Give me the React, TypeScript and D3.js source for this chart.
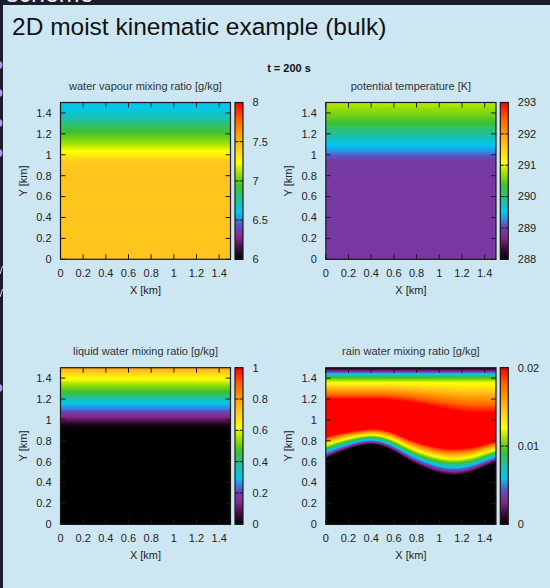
import React, { useMemo } from "react";
import * as d3 from "d3";

// vertical levels (km) for the horizontally uniform fields
const heightLevels = [0, 0.9, 0.95, 1.0, 1.05, 1.1, 1.15, 1.2, 1.25, 1.3, 1.35, 1.4, 1.45, 1.5];
const vapourProfile = [7.45, 7.45, 7.42, 7.3, 7.22, 7.12, 7.04, 6.97, 6.9, 6.82, 6.74, 6.67, 6.62, 6.58];
const thetaProfile = [288.88, 288.88, 288.92, 289.15, 289.35, 289.5, 289.7, 289.9, 290.1, 290.3, 290.45, 290.6, 290.72, 290.85];
const liquidProfile = [0, 0, 0.02, 0.1, 0.16, 0.24, 0.29, 0.36, 0.44, 0.5, 0.56, 0.63, 0.7, 0.78];

// rain water: lower edge of the rain shaft, depth of the edge, and top of the red core
const rainX = [0, 0.1, 0.2, 0.3, 0.4, 0.5, 0.6, 0.7, 0.8, 0.9, 1.0, 1.1, 1.2, 1.3, 1.4, 1.5];
const rainBase = [0.63, 0.68, 0.72, 0.755, 0.77, 0.75, 0.7, 0.63, 0.57, 0.52, 0.485, 0.465, 0.47, 0.5, 0.55, 0.59];
const rainDepth = [0.21, 0.19, 0.17, 0.15, 0.15, 0.16, 0.18, 0.2, 0.22, 0.24, 0.25, 0.26, 0.26, 0.24, 0.22, 0.21];
const rainRedTop = [1.2, 1.2, 1.2, 1.2, 1.2, 1.2, 1.19, 1.18, 1.16, 1.14, 1.12, 1.1, 1.08, 1.07, 1.07, 1.07];
const rainTopLevels = [1.366, 1.414, 1.445, 1.48, 1.5];
const rainTopValues = [0.012, 0.009, 0.006, 0.002, 0.0005];

const axisTicks = [0, 0.2, 0.4, 0.6, 0.8, 1, 1.2, 1.4];
const vapourTicks = [6, 6.5, 7, 7.5, 8];
const thetaTicks = [288, 289, 290, 291, 292, 293];
const liquidTicks = [0, 0.2, 0.4, 0.6, 0.8, 1];
const rainTicks = [0, 0.01, 0.02];

const paletteStops = [0, 0.07, 0.15, 0.22, 0.25, 0.3, 0.38, 0.47, 0.55, 0.62, 0.72, 0.8, 0.9, 1];
const paletteColors = ["#000000", "#3a0c3c", "#8a2a90", "#5a50c0", "#3a80e0", "#00c8f0", "#20c0a0", "#40c030", "#a0e000", "#ffff00", "#ffc820", "#ffa000", "#ff6000", "#ff0000"];

const palette = d3.scaleLinear<string>().domain(paletteStops).range(paletteColors).interpolate(d3.interpolateRgb).clamp(true);

const font = "Liberation Sans, Arial, sans-serif";
const fmt = (v: number) => String(+v.toFixed(3));

const profileField = (values: number[]) => {
  const s = d3.scaleLinear().domain(heightLevels).range(values).clamp(true);
  return (_x: number, y: number) => s(y);
};

// smooth along x with a B-spline through the column values
const xFrac = d3.scaleLinear().domain([0, 1.5]).range([0, 1]).clamp(true);
const baseAt = d3.interpolateBasis(rainBase);
const depthAt = d3.interpolateBasis(rainDepth);
const redTopAt = d3.interpolateBasis(rainRedTop);

const rainField = (x: number, y: number) => {
  const f = xFrac(x);
  const lower = d3.scaleLinear().domain([baseAt(f), baseAt(f) + depthAt(f)]).range([0, 0.02]).clamp(true)(y);
  const upper = d3.scaleLinear().domain([redTopAt(f), ...rainTopLevels]).range([0.02, ...rainTopValues]).clamp(true)(y);
  return Math.min(lower, upper);
};

const panels = [
  { title: "water vapour mixing ratio [g/kg]", x0: 60.5, x1: 230.5, y0: 102.5, y1: 259.3, cb: 235, domain: [6, 8], ticks: vapourTicks, field: profileField(vapourProfile), uniform: true },
  { title: "potential temperature [K]", x0: 325.8, x1: 496, y0: 102.5, y1: 259.3, cb: 500.3, domain: [288, 293], ticks: thetaTicks, field: profileField(thetaProfile), uniform: true },
  { title: "liquid water mixing ratio [g/kg]", x0: 60.5, x1: 230.5, y0: 367.7, y1: 524.3, cb: 235, domain: [0, 1], ticks: liquidTicks, field: profileField(liquidProfile), uniform: true },
  { title: "rain water mixing ratio [g/kg]", x0: 325.8, x1: 496, y0: 367.7, y1: 524.3, cb: 500.3, domain: [0, 0.02], ticks: rainTicks, field: rainField, uniform: false },
];

const Panel = ({ p }: { p: any }) => {
  const xScale = d3.scaleLinear().domain([0, 1.5]).range([p.x0, p.x1]);
  const yScale = d3.scaleLinear().domain([0, 1.5]).range([p.y1, p.y0]);
  const norm = d3.scaleLinear().domain(p.domain).range([0, 1]);
  const cbScale = d3.scaleLinear().domain(p.domain).range([p.y1, p.y0]);
  const cbW = 8;

  const cells = useMemo(() => {
    const out: any[] = [];
    const step = p.uniform ? 1 : 2;
    for (let py = p.y0; py < p.y1; py += 1) {
      const y = yScale.invert(py + 0.5);
      if (p.uniform) {
        out.push(<rect key={py} x={p.x0} y={py} width={p.x1 - p.x0} height={1.2} fill={palette(norm(p.field(0, y)))} />);
      } else {
        for (let px = p.x0; px < p.x1; px += step) {
          const x = xScale.invert(px + step / 2);
          out.push(<rect key={px + "_" + py} x={px} y={py} width={Math.min(step + 0.3, p.x1 - px)} height={1.2} fill={palette(norm(p.field(x, y)))} />);
        }
      }
    }
    return out;
  }, []);

  const cbRows = useMemo(() => {
    const out: any[] = [];
    for (let py = p.y0; py < p.y1; py += 1) {
      const v = cbScale.invert(py + 0.5);
      out.push(<rect key={py} x={p.cb} y={py} width={cbW} height={1.2} fill={palette(norm(v))} />);
    }
    return out;
  }, []);

  const ink = "#1a1a1a";
  return (
    <g fontFamily={font}>
      <text x={(p.x0 + p.x1) / 2} y={p.y0 - 12.5} textAnchor="middle" fontSize={11} fill="#333">{p.title}</text>
      <g shapeRendering="crispEdges">{cells}</g>
      {axisTicks.map((t) => (
        <g key={"x" + t} stroke={ink} strokeWidth={1}>
          <line x1={xScale(t)} x2={xScale(t)} y1={p.y0} y2={p.y0 + 5} />
          <line x1={xScale(t)} x2={xScale(t)} y1={p.y1} y2={p.y1 - 5} />
          <line x1={p.x0} x2={p.x0 + 5} y1={yScale(t)} y2={yScale(t)} />
          <line x1={p.x1} x2={p.x1 - 5} y1={yScale(t)} y2={yScale(t)} />
        </g>
      ))}
      <rect x={p.x0} y={p.y0} width={p.x1 - p.x0} height={p.y1 - p.y0} fill="none" stroke={ink} strokeWidth={1.2} />
      {axisTicks.map((t) => (
        <g key={"l" + t} fontSize={11} fill="#222">
          <text x={xScale(t)} y={p.y1 + 17.5} textAnchor="middle">{fmt(t)}</text>
          <text x={p.x0 - 9} y={yScale(t)} dy="0.35em" textAnchor="end">{fmt(t)}</text>
        </g>
      ))}
      <text x={(p.x0 + p.x1) / 2} y={p.y1 + 34.5} textAnchor="middle" fontSize={11} fill="#222">X [km]</text>
      <text transform={`translate(${p.x0 - 37.5},${(p.y0 + p.y1) / 2}) rotate(-90)`} textAnchor="middle" dy="0.35em" fontSize={11} fill="#222">Y [km]</text>
      <g shapeRendering="crispEdges">{cbRows}</g>
      {p.ticks.map((t: number) => (
        <g key={"c" + t}>
          <line x1={p.cb} x2={p.cb + 3.5} y1={cbScale(t)} y2={cbScale(t)} stroke={ink} />
          <line x1={p.cb + cbW} x2={p.cb + cbW - 3.5} y1={cbScale(t)} y2={cbScale(t)} stroke={ink} />
          <text x={p.cb + cbW + 9.5} y={cbScale(t)} dy="0.35em" fontSize={11} fill="#222">{fmt(t)}</text>
        </g>
      ))}
      <rect x={p.cb} y={p.y0} width={cbW} height={p.y1 - p.y0} fill="none" stroke={ink} strokeWidth={1.2} />
    </g>
  );
};

const bulletsY = [65, 93, 123, 153, 388];

const App = () => {
  return (
    <svg width={550} height={588} style={{ position: "absolute", left: 0, top: 0, display: "block" }}>
      <rect x={0} y={0} width={550} height={588} fill="#1b1b29" />
      {/* previous slide line peeking out at the top, cut off like in the screenshot */}
      <text x={6} y={2} fontFamily={font} fontSize={25} fill="#e8e8e8">scheme</text>
      {bulletsY.map((y) => (
        <circle key={y} cx={-1.5} cy={y} r={4} fill="#a49cf0" />
      ))}
      <line x1={0} y1={274} x2={2.5} y2={266} stroke="#ddd" strokeWidth={1} />
      <line x1={0} y1={297} x2={2.5} y2={289} stroke="#ddd" strokeWidth={1} />
      <rect x={3} y={5} width={547} height={583} fill="#cde7f2" />
      <text x={12} y={35} fontFamily={font} fontSize={24.5} fill="#111">2D moist kinematic example (bulk)</text>
      <text x={289} y={71.5} textAnchor="middle" fontFamily={font} fontSize={11} fontWeight="bold" fill="#111">t = 200 s</text>
      {panels.map((p, i) => (
        <Panel key={i} p={p} />
      ))}
    </svg>
  );
};

export default App;
